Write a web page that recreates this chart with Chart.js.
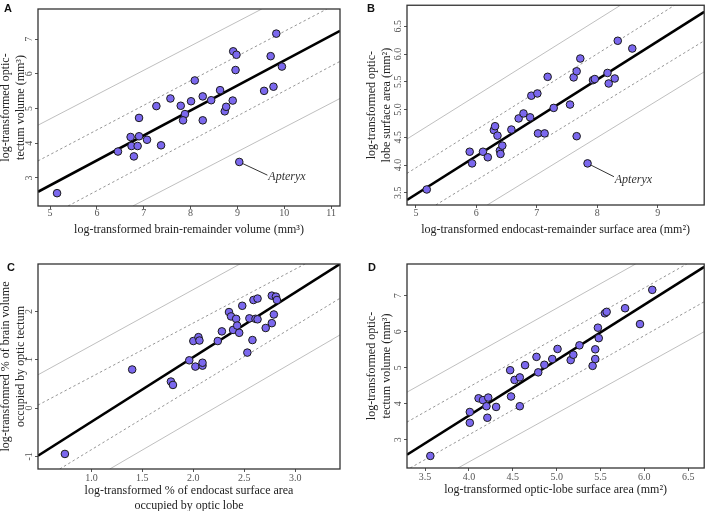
<!DOCTYPE html>
<html>
<head>
<meta charset="utf-8">
<script src="https://cdn.jsdelivr.net/npm/chart.js@4.4.0/dist/chart.umd.min.js"></script>
<style>
  html, body { margin: 0; padding: 0; background: #fff; }
  body { width: 709px; height: 511px; position: relative; overflow: hidden; }
  canvas { position: absolute; }
  .tag { position: absolute; font: bold 11px "Liberation Sans", Arial, sans-serif; color: #111; line-height: 11px; }
</style>
</head>
<body>
<canvas id="chart-a" width="354" height="250" style="left:0;top:0"></canvas>
<canvas id="chart-b" width="354" height="250" style="left:355px;top:0"></canvas>
<canvas id="chart-c" width="354" height="264" style="left:0;top:250px"></canvas>
<canvas id="chart-d" width="354" height="264" style="left:355px;top:250px"></canvas>
<div class="tag" style="left:4px;top:3px">A</div>
<div class="tag" style="left:367px;top:3px">B</div>
<div class="tag" style="left:7px;top:262px">C</div>
<div class="tag" style="left:368px;top:262px">D</div>

<script>
// ---------------------------------------------------------------------------
// Data (log-transformed values, one point per species)
// Lines are [x0, y0, x1, y1] where they meet the plot frame.
// ---------------------------------------------------------------------------

// A: brain-remainder volume vs optic-tectum volume
const aBrainRemainder = [5.15, 6.45, 6.72, 6.74, 6.79, 6.87, 6.90, 6.90, 7.07, 7.37, 7.27, 7.57, 7.79, 7.88, 7.84, 8.01, 8.09,
  8.26, 8.26, 8.44, 8.63, 8.73, 8.76, 8.90, 8.91, 8.98, 8.96, 9.04, 9.57, 9.71, 9.77, 9.83, 9.95];
const aOpticTectum = [2.56, 3.76, 4.18, 3.92, 3.62, 3.92, 4.20, 4.73, 4.10, 3.94, 5.07, 5.29, 5.08, 4.84, 4.66, 5.21, 5.81,
  5.35, 4.66, 5.24, 5.53, 4.92, 5.05, 5.23, 6.65, 6.55, 6.11, 3.46, 5.51, 6.51, 5.63, 7.16, 6.21];
const aFit = [4.743, 2.60, 11.19, 7.24];
const aInner = [[4.743, 3.49, 10.91, 7.87], [5.385, 2.19, 11.19, 6.36]];
const aOuter = [[4.743, 4.52, 9.52, 7.87], [6.768, 2.19, 11.19, 5.29]];
const aXTicks = ["5", "6", "7", "8", "9", "10", "11"];
const aYTicks = ["3", "4", "5", "6", "7"];

// B: endocast-remainder surface area vs optic-lobe surface area
const bEndocastRemainder = [5.18, 5.89, 5.93, 6.11, 6.19, 6.29, 6.31, 6.35, 6.39, 6.40, 6.43, 6.58, 6.70, 6.78, 6.89, 6.91, 7.01,
  7.02, 7.13, 7.18, 7.28, 7.55, 7.61, 7.66, 7.72, 7.66, 7.84, 7.93, 7.96, 8.17, 8.19, 8.29, 8.34, 8.58];
const bOpticLobe = [3.56, 4.24, 4.03, 4.24, 4.14, 4.63, 4.70, 4.53, 4.26, 4.20, 4.35, 4.64, 4.84, 4.93, 4.86, 5.25, 5.29,
  4.57, 4.57, 5.59, 5.03, 5.09, 5.58, 5.69, 5.92, 4.52, 4.03, 5.53, 5.55, 5.66, 5.47, 5.56, 6.24, 6.10];
const bFit = [4.853, 3.37, 9.77, 6.76];
const bInner = [[4.853, 3.85, 9.28, 6.88], [5.33, 3.28, 9.77, 6.24]];
const bOuter = [[4.853, 4.47, 8.385, 6.88], [6.18, 3.28, 9.77, 5.68]];
const bXTicks = ["5", "6", "7", "8", "9"];
const bYTicks = ["3.5", "4.0", "4.5", "5.0", "5.5", "6.0", "6.5"];

// C: % of endocast surface area (optic lobe) vs % of brain volume (optic tectum)
const cLobePercent = [0.74, 1.40, 1.78, 1.80, 1.96, 2.00, 2.02, 2.05, 2.06, 2.09, 2.09, 2.24, 2.28, 2.35, 2.37, 2.39, 2.42,
  2.43, 2.45, 2.48, 2.53, 2.55, 2.58, 2.59, 2.63, 2.61, 2.63, 2.71, 2.77, 2.77, 2.79, 2.81, 2.82];
const cTectumPercent = [-0.95, 0.80, 0.55, 0.48, 0.99, 1.39, 0.86, 1.47, 1.40, 0.88, 0.94, 1.39, 1.59, 1.99, 1.90, 1.62, 1.85,
  1.71, 1.56, 2.12, 1.15, 1.86, 1.41, 2.24, 2.27, 1.85, 1.84, 1.66, 2.33, 1.76, 1.94, 2.31, 2.24];
const cFit = [0.476, -0.986, 3.439, 2.986];
const cInner = [[0.476, 0.062, 3.095, 2.986], [0.689, -1.262, 3.439, 2.276]];
const cOuter = [[0.476, 0.69, 2.457, 2.986], [1.18, -1.262, 3.439, 1.517]];
const cXTicks = ["1.0", "1.5", "2.0", "2.5", "3.0"];
const cYTicks = ["-1", "0", "1", "2"];

// D: optic-lobe surface area vs optic-tectum volume
const dOpticLobe = [3.56, 4.01, 4.01, 4.11, 4.16, 4.20, 4.21, 4.22, 4.31, 4.47, 4.48, 4.52, 4.58, 4.58, 4.64, 4.77, 4.79,
  4.86, 4.95, 5.01, 5.16, 5.19, 5.26, 5.41, 5.44, 5.44, 5.47, 5.48, 5.55, 5.57, 5.78, 5.95, 6.09];
const dOpticTectum = [2.55, 3.77, 3.47, 4.15, 4.10, 3.93, 3.61, 4.17, 3.91, 4.93, 4.20, 4.66, 3.93, 4.73, 5.07, 5.30, 4.87,
  5.08, 5.24, 5.52, 5.21, 5.36, 5.62, 5.05, 5.24, 5.51, 6.11, 5.82, 6.51, 6.55, 6.65, 6.21, 7.16];
const dFit = [3.294, 2.584, 6.682, 7.80];
const dInner = [[3.294, 3.49, 6.483, 7.878], [3.33, 2.215, 6.682, 6.83]];
const dOuter = [[3.294, 4.32, 5.90, 7.878], [3.875, 2.215, 6.682, 6.00]];
const dXTicks = ["3.5", "4.0", "4.5", "5.0", "5.5", "6.0", "6.5"];
const dYTicks = ["3", "4", "5", "6", "7"];

// Apteryx call-outs: [pointX, pointY, lineEndX, lineEndY], label anchor [x, y]
const aApteryxLine = [9.04, 3.46, 9.64, 3.08];
const aApteryxLabel = [9.66, 3.03];
const bApteryxLine = [7.84, 4.03, 8.277, 3.79];
const bApteryxLabel = [8.29, 3.73];

// ---------------------------------------------------------------------------
// Styling / shared helpers
// ---------------------------------------------------------------------------

const SERIF = '"Liberation Serif", "Times New Roman", serif';
Chart.defaults.font.family = SERIF;
Chart.defaults.color = "#444";

const measure = document.createElement("canvas").getContext("2d");
measure.font = `10px ${SERIF}`;

// y tick labels are rotated and centred; Chart.js shifts them by half the widest label
function yTickPadding(labels) {
  const widest = Math.max(...labels.map(l => measure.measureText(l).width));
  return 5.5 - widest / 2;
}

function segment(s) {
  return [{ x: s[0], y: s[1] }, { x: s[2], y: s[3] }];
}

const framePlugin = {
  id: "frame",
  afterDraw(chart) {
    const { ctx, chartArea: a } = chart;
    ctx.save();
    ctx.strokeStyle = "#333";
    ctx.lineWidth = 1.3;
    ctx.strokeRect(a.left, a.top, a.right - a.left, a.bottom - a.top);
    ctx.restore();
  },
};

const notePlugin = {
  id: "note",
  afterDatasetsDraw(chart, args, opts) {
    if (!opts.text) return;
    const { ctx, scales } = chart;
    ctx.save();
    ctx.font = `italic 12px ${SERIF}`;
    ctx.fillStyle = "#333";
    ctx.textAlign = "left";
    ctx.textBaseline = "middle";
    ctx.fillText(opts.text, scales.x.getPixelForValue(opts.at[0]), scales.y.getPixelForValue(opts.at[1]));
    ctx.restore();
  },
};

function makePanel(id, p) {
  const datasets = [
    {
      data: p.xs.map((x, i) => ({ x, y: p.ys[i] })),
      pointRadius: 3.8,
      pointHoverRadius: 3.8,
      pointBackgroundColor: "#7b68ee",
      pointBorderColor: "#1a1a1a",
      pointBorderWidth: 1,
      showLine: false,
      order: 0,
    },
    { data: segment(p.fit), showLine: true, borderColor: "#000", borderWidth: 2.6, pointRadius: 0, order: 1 },
    ...p.inner.map(s => ({
      data: segment(s), showLine: true, borderColor: "#8a8a8a", borderWidth: 0.9,
      borderDash: [2.5, 2.5], pointRadius: 0, order: 2,
    })),
    ...p.outer.map(s => ({
      data: segment(s), showLine: true, borderColor: "#b8b8b8", borderWidth: 0.9, pointRadius: 0, order: 2,
    })),
  ];
  if (p.noteLine) {
    datasets.push({ data: segment(p.noteLine), showLine: true, borderColor: "#333", borderWidth: 1, pointRadius: 0, order: 1 });
  }

  const tickFont = { family: SERIF, size: 10 };
  const titleFont = { family: SERIF, size: 12, lineHeight: 1.25 };

  return new Chart(document.getElementById(id), {
    type: "scatter",
    data: { datasets },
    plugins: [framePlugin, notePlugin],
    options: {
      responsive: false,
      animation: false,
      events: [],
      layout: { padding: p.pad },
      plugins: {
        legend: { display: false },
        tooltip: { enabled: false },
        note: { text: p.noteLabel ? "Apteryx" : null, at: p.noteLabel },
      },
      scales: {
        x: {
          type: "linear",
          min: p.xRange[0],
          max: p.xRange[1],
          afterBuildTicks: s => { s.ticks = p.xTicks.map(t => ({ value: Number(t) })); },
          afterFit: s => { s.height = p.xAxisHeight; },
          ticks: {
            autoSkip: false, minRotation: 0, maxRotation: 0, padding: p.xTickPad,
            color: "#555", font: tickFont,
            callback: (v, i) => p.xTicks[i],
          },
          grid: { drawOnChartArea: false, drawTicks: true, tickLength: 3, color: "#555" },
          border: { display: false },
          title: { display: true, text: p.xTitle, color: "#222", font: titleFont, padding: { top: 0, bottom: p.xTitlePad } },
        },
        y: {
          type: "linear",
          min: p.yRange[0],
          max: p.yRange[1],
          afterBuildTicks: s => { s.ticks = p.yTicks.map(t => ({ value: Number(t) })); },
          afterFit: s => { s.width = p.yAxisWidth; },
          ticks: {
            autoSkip: false, minRotation: 90, maxRotation: 90, crossAlign: "center",
            padding: yTickPadding(p.yTicks), color: "#555", font: tickFont,
            callback: (v, i) => p.yTicks[i],
          },
          grid: { drawOnChartArea: false, drawTicks: true, tickLength: 3, color: "#555" },
          border: { display: false },
          title: { display: true, text: p.yTitle, color: "#222", font: titleFont, padding: { top: p.yTitlePad, bottom: 0 } },
        },
      },
    },
  });
}

// ---------------------------------------------------------------------------
// Panels
// ---------------------------------------------------------------------------

makePanel("chart-a", {
  xs: aBrainRemainder, ys: aOpticTectum, fit: aFit, inner: aInner, outer: aOuter,
  xTicks: aXTicks, yTicks: aYTicks, xRange: [4.743, 11.19], yRange: [2.19, 7.87],
  pad: { left: 0, top: 1, right: 14, bottom: 0 }, yAxisWidth: 38, xAxisHeight: 44,
  xTickPad: -1.5, xTitlePad: 12.5, yTitlePad: -1.5,
  xTitle: "log-transformed brain-remainder volume (mm³)",
  yTitle: ["log-transformed optic-", "tectum volume (mm³)"],
  noteLine: aApteryxLine, noteLabel: aApteryxLabel,
});

makePanel("chart-b", {
  xs: bEndocastRemainder, ys: bOpticLobe, fit: bFit, inner: bInner, outer: bOuter,
  xTicks: bXTicks, yTicks: bYTicks, xRange: [4.853, 9.77], yRange: [3.28, 6.88],
  pad: { left: 0, top: 1, right: 1, bottom: 0 }, yAxisWidth: 52, xAxisHeight: 45,
  xTickPad: -1, xTitlePad: 12.5, yTitlePad: 9.5,
  xTitle: "log-transformed endocast-remainder surface area (mm²)",
  yTitle: ["log-transformed optic-", "lobe surface area (mm²)"],
  noteLine: bApteryxLine, noteLabel: bApteryxLabel,
});

makePanel("chart-c", {
  xs: cLobePercent, ys: cTectumPercent, fit: cFit, inner: cInner, outer: cOuter,
  xTicks: cXTicks, yTicks: cYTicks, xRange: [0.476, 3.439], yRange: [-1.262, 2.986],
  pad: { left: 0, top: 14, right: 14, bottom: 0 }, yAxisWidth: 38, xAxisHeight: 45,
  xTickPad: 0, xTitlePad: 0.8, yTitlePad: -1.5,
  xTitle: ["log-transformed % of endocast surface area", "occupied by optic lobe"],
  yTitle: ["log-transfomred % of brain volume", "occupied by optic tectum"],
});

makePanel("chart-d", {
  xs: dOpticLobe, ys: dOpticTectum, fit: dFit, inner: dInner, outer: dOuter,
  xTicks: dXTicks, yTicks: dYTicks, xRange: [3.294, 6.682], yRange: [2.215, 7.878],
  pad: { left: 0, top: 14, right: 1, bottom: 0 }, yAxisWidth: 52, xAxisHeight: 46,
  xTickPad: 0.3, xTitlePad: 16.5, yTitlePad: 9,
  xTitle: "log-transformed optic-lobe surface area (mm²)",
  yTitle: ["log-transformed optic-", "tectum volume (mm³)"],
});
</script>
</body>
</html>
